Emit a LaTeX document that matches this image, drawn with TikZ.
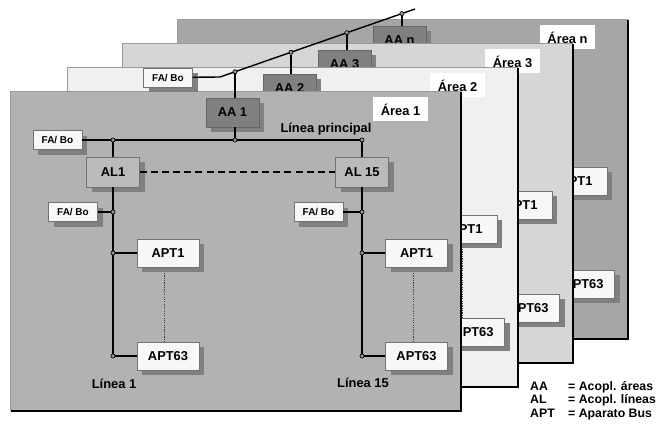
\documentclass[tikz,border=0pt]{standalone}
\usepackage{fontspec}
\setmainfont{Liberation Sans}
\usetikzlibrary{positioning, shadows, calc}
\definecolor{shadowgray}{gray}{0.5}

\begin{document}
\begin{tikzpicture}[
    x=0.03cm, y=-0.03cm,
    font=\fontsize{11}{13}\selectfont\bfseries,
    area_edge/.style={line width=1.6pt, black},
    box_shadow/.style={drop shadow={shadow xshift=4.5pt, shadow yshift=-4.5pt, fill=shadowgray, opacity=1}},
    box_white/.style={draw=black!55, fill=black!3, inner sep=0pt, box_shadow},
    apt_box/.style={box_white, minimum width=1.86cm, minimum height=0.84cm},
    fabo_box/.style={box_white, minimum width=1.47cm, minimum height=0.57cm, font=\fontsize{8.5}{10}\selectfont\bfseries},
    aa_box/.style={draw=black!60, fill=black!50, inner sep=0pt, minimum width=1.59cm, minimum height=0.87cm, box_shadow},
    al_box/.style={draw=black!55, fill=black!27, inner sep=0pt, minimum width=1.59cm, minimum height=0.9cm, box_shadow},
    area_label/.style={fill=white, inner sep=0pt, minimum width=1.65cm, minimum height=0.72cm},
    legend/.style={anchor=base west, inner sep=0pt, font=\fontsize{10.5}{12}\selectfont\bfseries},
    bus/.style={line width=1.2pt},
    dots/.style={densely dotted, line width=1pt, black!75},
    junction/.style={circle, draw, fill=black!40, inner sep=0pt, minimum size=3.5pt, line width=0.6pt}
]
\useasboundingbox (0,0) rectangle (666,426);

% Macro for one area sheet: shift x, shift y, fill, number, name suffix, x of APT1
\newcommand{\drawArea}[6]{
    \begin{scope}[shift={(#1,#2)}]
        % Tấm nền của vùng
        \fill[#3] (10,91) rectangle (461,411);
        \draw[black!40] (461,91) -- (10,91) -- (10,411);
        \draw[area_edge] (461,92) -- (461,411) -- (11,411);

        % Bộ ghép vùng và tên vùng
        \node[aa_box] (aa_#5) at (232.5,112.5) {AA #4};
        \node[area_label] (area_#5) at (400.5,109.5) {Área #4};

        % Thiết bị của đường dây bên phải
        \node[apt_box] (apt1_#5) at (#6,253) {APT1};
        \node[apt_box] (apt63_#5) at (416.5,356) {APT63};
        \draw[dots] ([shift={(-0.1cm,-5pt)}]apt1_#5.south) -- ([xshift=-0.1cm]apt1_#5.south |- apt63_#5.north);
    \end{scope}
}

% ==========================================
% Các vùng phía sau
\drawArea{167}{-72}{black!35}{n}{n}{409}
\drawArea{112}{-48}{black!16}{3}{three}{409}
\drawArea{57}{-24}{black!6}{2}{two}{409}

% ==========================================
% Vùng 1 (phía trước)
\drawArea{0}{0}{black!30}{1}{one}{416.5}

% Đường chính
\node[fabo_box] (fabo1) at (57.5,140) {FA/ Bo};
\node[junction] (jm1) at (113,140) {};
\node[junction] (jaa) at (235,140) {};
\node[junction] (jm15) at (362,140) {};
\draw[bus] (fabo1) -- (jm1) -- (jaa) -- (jm15);
\draw[bus] (aa_one.south -| jaa) -- (jaa);
\node (lbl_main) at (326,129) {Línea principal};

% Bộ ghép đường dây
\node[al_box] (al1) at (113,172) {AL1};
\node[al_box] (al15) at (362,172) {AL 15};
\draw[bus, dashed, dash pattern=on 6pt off 3.5pt] (al1) -- (al15);

% Línea 1
\node[fabo_box] (fabo2) at (73,212) {FA/ Bo};
\node[apt_box] (apt1_l1) at (168,253) {APT1};
\node[apt_box] (apt63_l1) at (168,356) {APT63};
\node[junction] (jf1) at (113,212) {};
\node[junction] (ja1) at (113,253) {};
\node[junction] (jb1) at (113,356) {};
\draw[bus] (jm1) -- (al1);
\draw[bus] (al1) -- (jf1) -- (ja1) -- (jb1);
\draw[bus] (fabo2) -- (jf1);
\draw[bus] (ja1) -- (apt1_l1);
\draw[bus] (jb1) -- (apt63_l1);
\draw[dots] ([shift={(-0.1cm,-5pt)}]apt1_l1.south) -- ([xshift=-0.1cm]apt1_l1.south |- apt63_l1.north);
\node (lbl_l1) at (114,384) {Línea 1};

% Línea 15
\node[fabo_box] (fabo3) at (318.5,212) {FA/ Bo};
\node[junction] (jf15) at (362,212) {};
\node[junction] (ja15) at (362,253) {};
\node[junction] (jb15) at (362,356) {};
\draw[bus] (jm15) -- (al15);
\draw[bus] (al15) -- (jf15) -- (ja15) -- (jb15);
\draw[bus] (fabo3) -- (jf15);
\draw[bus] (ja15) -- (apt1_one);
\draw[bus] (jb15) -- (apt63_one);
\node (lbl_l15) at (363,383) {Línea 15};

% ==========================================
% Đường trục giữa các vùng
\node[fabo_box] (fabo0) at (168,77.5) {FA/ Bo};
\coordinate (bb_bend) at (220,77);
\coordinate (bb_end) at (415,9);
\draw[bus] (fabo0) -- (bb_bend) -- (bb_end);
\node[junction] (jbb1) at ($(bb_bend)!0.077!(bb_end)$) {};
\node[junction] (jbb2) at ($(bb_bend)!0.364!(bb_end)$) {};
\node[junction] (jbb3) at ($(bb_bend)!0.651!(bb_end)$) {};
\node[junction] (jbbn) at ($(bb_bend)!0.933!(bb_end)$) {};
\draw[bus] (jbb1) -- (jbb1 |- aa_one.north);
\draw[bus] (jbb2) -- (jbb2 |- aa_two.north);
\draw[bus] (jbb3) -- (jbb3 |- aa_three.north);
\draw[bus] (jbbn) -- (jbbn |- aa_n.north);

% ==========================================
% Chú thích
\node[legend] (key_aa) at (530,390) {AA};
\node[legend] (txt_aa) at (568,390) {= Acopl. áreas};
\node[legend] (key_al) at (530,403.5) {AL};
\node[legend] (txt_al) at (568,403.5) {= Acopl. líneas};
\node[legend] (key_apt) at (530,417) {APT};
\node[legend] (txt_apt) at (568,417) {= Aparato Bus};

\end{tikzpicture}
\end{document}
